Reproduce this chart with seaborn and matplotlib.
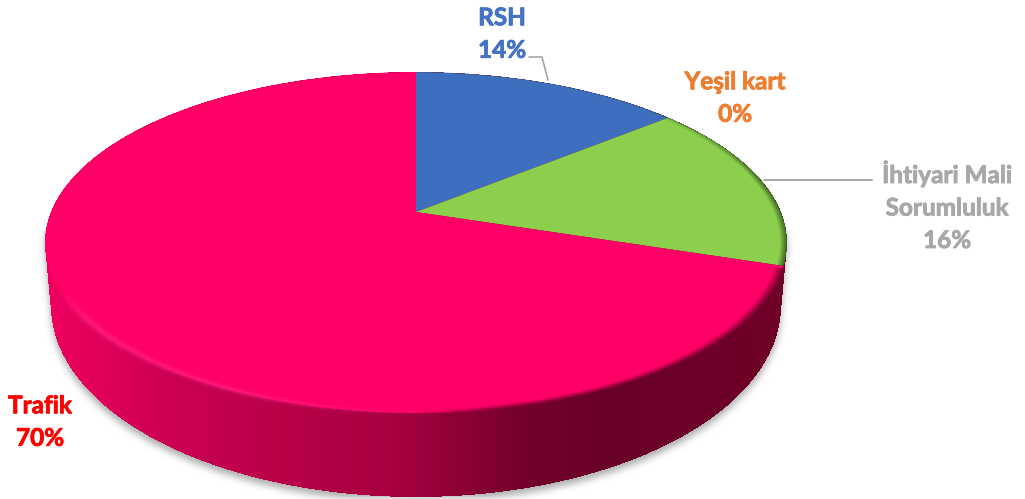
import numpy as np
import seaborn as sns
import matplotlib.pyplot as plt
import matplotlib.patheffects as pe
from matplotlib.colors import LinearSegmentedColormap
from matplotlib.transforms import Transform

# data
labels = ['RSH', 'Yeşil kart', 'İhtiyari Mali\nSorumluluk', 'Trafik']
values = [14, 0, 16, 70]
slice_colors = ['#3E6EBE', '#8CCF4D', '#8CCF4D', '#FF0066']
label_colors = ['#4472C4', '#ED7D31', '#A8A8A8', '#FF0000']

W, H = 1025, 499
sns.set_theme(style='white')
plt.rcParams['font.family'] = ['Lato', 'DejaVu Sans']

# top face: unit circle seen in perspective, apex is not the middle of the ellipse
APEX_X, APEX_Y = 416, 212
C = 0.179
A = 165
K = 365
TOP = (416, 242.5, 371, 170.5)
BOTTOM = (416, 306, 365, 191)


class Persp(Transform):
    input_dims = 2
    output_dims = 2
    is_affine = False

    def transform_non_affine(self, values):
        pts = np.asarray(values, dtype=float)
        w = 1 + C * pts[:, 1]
        return np.column_stack([APEX_X + K * pts[:, 0] / w, APEX_Y - A * pts[:, 1] / w])


def ellipse_r(xs, ys, e):
    return np.sqrt(((xs - e[0]) / e[2]) ** 2 + ((ys - e[1]) / e[3]) ** 2)


def blur(a, n):
    kernel = np.ones(n) / n
    for _ in range(3):
        a = np.apply_along_axis(lambda r: np.convolve(r, kernel, mode='same'), 0, a)
        a = np.apply_along_axis(lambda r: np.convolve(r, kernel, mode='same'), 1, a)
    return a


def layer(color, alpha):
    img = np.zeros((H, W, 4))
    img[..., :3] = np.array(color) / 255
    img[..., 3] = np.clip(alpha, 0, 1)
    return img


fig = plt.figure(figsize=(W / 100, H / 100), dpi=100)
ax = fig.add_axes([0, 0, 1, 1])
xs, ys = np.meshgrid(np.arange(W) + 0.5, np.arange(H) + 0.5)
extent = (0, W, H, 0)

# side wall is every ellipse between the top and the bottom one
wall = np.zeros((H, W), dtype=bool)
for t in np.linspace(0, 1, 70):
    e = [a + (b - a) * t for a, b in zip(TOP, BOTTOM)]
    wall |= ellipse_r(xs, ys, e) <= 1

# soft shadow under the pie, only below the middle of the pie
moved = np.zeros((H, W))
moved[5:, :] = wall[:-5, :]
shadow = blur(moved, 7) * (ys > 230)
ax.imshow(layer((120, 120, 120), shadow * 0.6), extent=extent, aspect='auto', zorder=1)

wall_cmap = LinearSegmentedColormap.from_list('wall', [
    (0.0, '#F00060'), (0.16, '#CC0052'), (0.48, '#A50040'),
    (0.64, '#75002C'), (0.75, '#690028'), (1.0, '#700028')])
wall_img = wall_cmap(np.clip((xs - 45) / 743, 0, 1))
wall_img[..., 3] = wall
ax.imshow(wall_img, extent=extent, aspect='auto', zorder=2)

wedges, _ = ax.pie(values, colors=slice_colors, startangle=90, counterclock=False,
                   wedgeprops={'linewidth': 0})
for wedge in wedges:
    wedge.set_transform(Persp() + ax.transData)
    wedge.set_zorder(3)

# edge of the top face: pink bevel on the left, soft dark edge on the right, dark green rim
r_top = ellipse_r(xs, ys, TOP)
d = (r_top - 1) * 200
front = np.clip((ys - 290) / 30, 0, 1)
bevel = np.exp(-((d + 1) / 3) ** 2) * np.clip((470 - xs) / 250, 0, 1) * front * 0.55
ax.imshow(layer((255, 40, 135), bevel), extent=extent, aspect='auto', zorder=4)
dark = np.clip((d + 5) / 6, 0, 1) * (r_top <= 1) * np.clip((xs - 420) / 80, 0, 1) * (ys > 268)
ax.imshow(layer((105, 0, 40), dark), extent=extent, aspect='auto', zorder=4)
rim = np.clip((d + 4) / 4, 0, 1) * (r_top <= 1) * np.clip((xs - 640) / 120, 0, 1) * (ys < 266)
ax.imshow(layer((50, 85, 30), rim * 0.9), extent=extent, aspect='auto', zorder=4)
thin = np.clip((d + 1.5) / 1.5, 0, 1) * (r_top <= 1) * (ys < 135) * (xs > 416)
ax.imshow(layer((70, 80, 90), thin * 0.5), extent=extent, aspect='auto', zorder=4)

# leader lines
ax.plot([529, 542, 548], [57, 57, 80], color='#A5A5A5', lw=1.2, zorder=5)
ax.plot([764, 872], [180, 180], color='#A5A5A5', lw=1.4, zorder=5)

label_pos = [(502, 34), (735, 98), (947, 206), (40, 422)]
for name, val, col, pos in zip(labels, values, label_colors, label_pos):
    txt = ax.text(pos[0], pos[1], f'{name}\n{val}%', color=col, ha='center', va='center',
                  fontsize=17.5, fontweight='bold', linespacing=1.5, zorder=6)
    txt.set_path_effects([pe.withStroke(linewidth=0.6, foreground=col)])

ax.set_aspect('auto')
ax.set_xlim(0, W)
ax.set_ylim(H, 0)
ax.axis('off')
fig.savefig('out.png', dpi=100, facecolor='white')
